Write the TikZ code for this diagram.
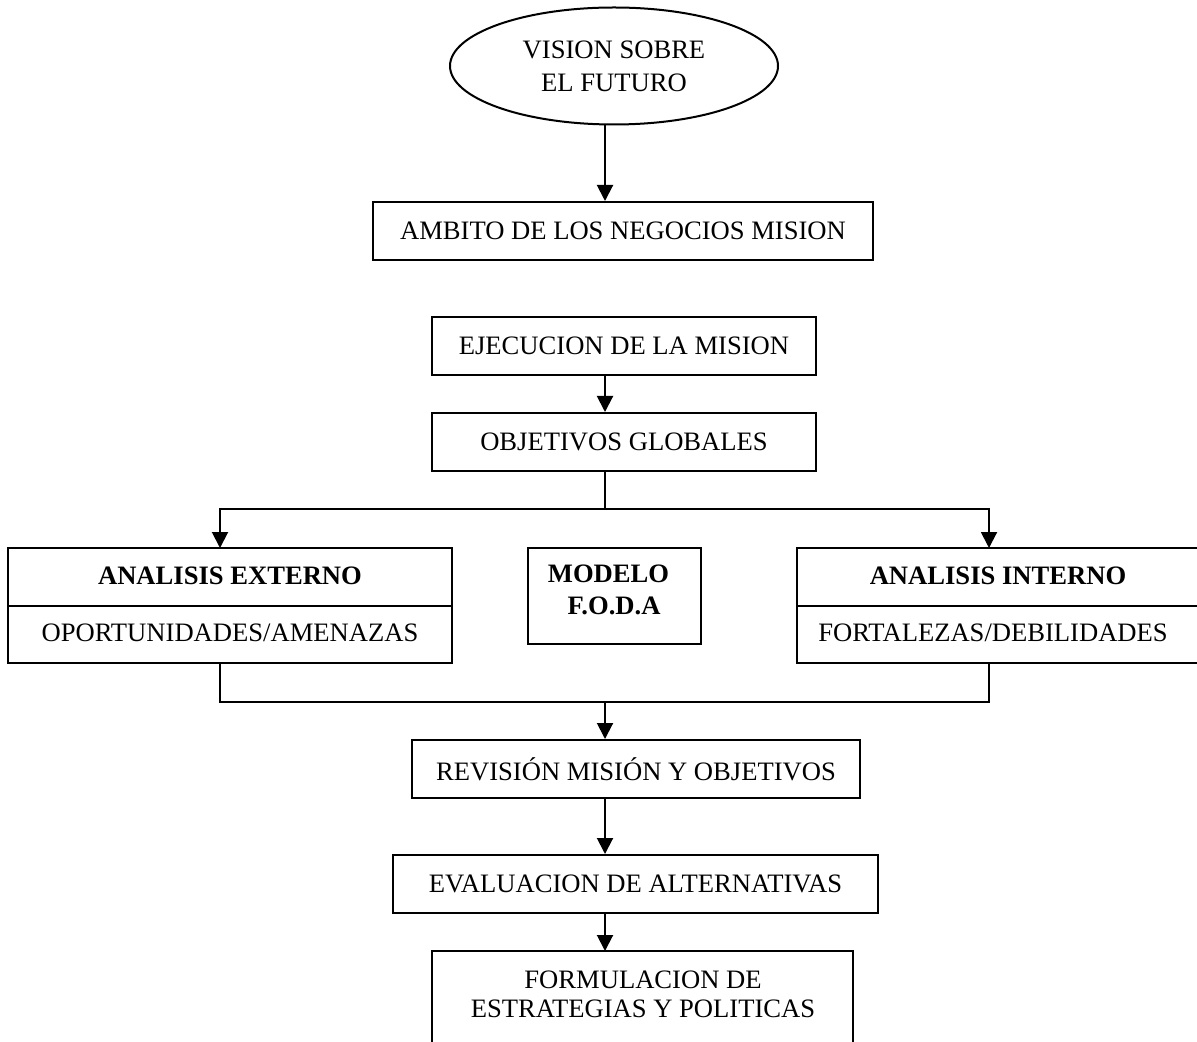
\documentclass[tikz,border=0pt]{standalone}
\usepackage{fontspec}
\setmainfont{Liberation Serif}
\usetikzlibrary{arrows.meta,shapes.geometric}
\begin{document}
\begin{tikzpicture}[x=0.5pt,y=-0.5pt,
  line width=1pt,
  every node/.style={font=\fontsize{13.3}{15}\selectfont, inner sep=0pt},
  box/.style={draw, rectangle, minimum height=29pt},
  bold/.style={font=\fontsize{13.3}{15}\selectfont\bfseries},
  arr/.style={-{Triangle[length=8pt,width=8pt]}}]
\useasboundingbox (0,0) rectangle (1197,1042);
\coordinate (spine) at (605,0);

% top of the chain
\node[draw, ellipse, minimum width=164pt, minimum height=58.5pt, align=center,
      font=\fontsize{13.3}{16.5}\selectfont] (vision) at (614,66) {VISION SOBRE\\EL FUTURO};
\node[box, minimum width=250pt] (ambito) at (623,231) {AMBITO DE LOS NEGOCIOS MISION};
\node[box, minimum width=192pt] (ejec) at (624,346) {EJECUCION DE LA MISION};
\node[box, minimum width=192pt] (obj) at (624,442) {OBJETIVOS GLOBALES};

\draw[arr] (vision.south -| spine) -- (ambito.north -| spine);
\draw[arr] (ejec.south -| spine) -- (obj.north -| spine);

% external analysis
\coordinate (divy) at (0,606);
\node[draw, minimum width=222pt, minimum height=57.5pt] (ext) at (230,605.5) {};
\draw (ext.west |- divy) -- (ext.east |- divy);
\node[bold] (extT) at (230,576) {ANALISIS EXTERNO};
\node (extS) at (230,633) {OPORTUNIDADES/AMENAZAS};

% SWOT model
\node[draw, minimum width=86.5pt, minimum height=48pt] (foda) at (614.5,596) {};
\node[bold] (fodaA) at (608.5,574) {MODELO};
\node[bold] (fodaB) at (614,606) {F.O.D.A};

% internal analysis (runs past the right edge)
\coordinate (intTR) at (1197,548);
\coordinate (intTL) at (797,548);
\coordinate (intBL) at (797,663);
\coordinate (intBR) at (1197,663);
\coordinate (intDL) at (797,606);
\coordinate (intDR) at (1197,606);
\draw (intTR) -- (intTL) -- (intBL) -- (intBR);
\draw (intDL) -- (intDR);
\node[bold] (intT) at (998,576) {ANALISIS INTERNO};
\node (intS) at (993,633) {FORTALEZAS/DEBILIDADES};

% branching to both analyses
\coordinate (split) at (605,509);
\coordinate (extIn) at (220,548);
\coordinate (intIn) at (989,548);
\draw (obj.south -| spine) -- (split);
\draw[arr] (split) -| (extIn);
\draw[arr] (split) -| (intIn);

% lower chain
\node[box, minimum width=224pt] (rev) at (636,769) {REVISIÓN MISIÓN Y OBJETIVOS};
\node[box, minimum width=242.5pt] (eval) at (635.5,884) {EVALUACION DE ALTERNATIVAS};

% merging both analyses
\coordinate (extOut) at (220,663);
\coordinate (intOut) at (989,663);
\coordinate (merge) at (605,702);
\draw (extOut) |- (merge) -| (intOut);
\draw[arr] (merge) -- (rev.north -| spine);
\draw[arr] (rev.south -| spine) -- (eval.north -| spine);

% last box (runs past the bottom edge)
\coordinate (formBL) at (432,1042);
\coordinate (formTL) at (432,951);
\coordinate (formTR) at (853,951);
\coordinate (formBR) at (853,1042);
\coordinate (formIn) at (605,951);
\draw (formBL) -- (formTL) -- (formTR) -- (formBR);
\node[align=center, font=\fontsize{13.3}{14.5}\selectfont] (form) at (643,994)
  {FORMULACION DE\\ESTRATEGIAS Y POLITICAS};
\draw[arr] (eval.south -| spine) -- (formIn);
\end{tikzpicture}
\end{document}
